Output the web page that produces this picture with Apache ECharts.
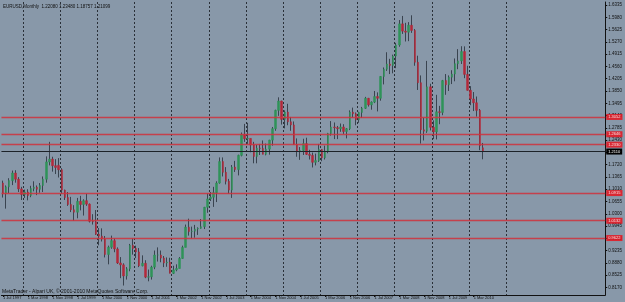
<!DOCTYPE html>
<html>
<head>
<meta charset="utf-8">
<script src="https://cdn.jsdelivr.net/npm/echarts@6.0.0/dist/echarts.min.js"></script>
<style>
  html, body { margin: 0; padding: 0; background: #8898a9; }
  #chart-container { width: 625px; height: 302px; }
</style>
</head>
<body>
<div id="chart-container"></div>
<script>
// EURUSD monthly, Jul 1997 .. Jun 2010
const open = [
	1.1190, 1.0880, 1.1080, 1.1260, 1.1480, 1.1300,
	1.1020, 1.0860, 1.0930, 1.0830, 1.1030, 1.1070, 1.1010, 1.1120, 1.1300, 1.1800, 1.1880, 1.1690,
	1.1700, 1.1575, 1.0985, 1.0770, 1.0570, 1.0418, 1.0347, 1.0660, 1.0570, 1.0680, 1.0580, 1.0085,
	1.0070, 0.9710, 0.9655, 0.9570, 0.9125, 0.9335, 0.9525, 0.9285, 0.8880, 0.8825, 0.8505, 0.8710,
	0.9390, 0.9300, 0.9200, 0.8800, 0.8870, 0.8470, 0.8480, 0.8760, 0.9110, 0.9110, 0.9020, 0.8880,
	0.8905, 0.8580, 0.8680, 0.8720, 0.9010, 0.9330, 0.9915, 0.9790, 0.9800, 0.9860, 0.9880, 0.9930,
	1.0490, 1.0730, 1.0780, 1.0910, 1.1190, 1.1810, 1.1500, 1.1240, 1.0985, 1.1650, 1.1580, 1.1990,
	1.2590, 1.2470, 1.2480, 1.2290, 1.1960, 1.2200, 1.2190, 1.2020, 1.2170, 1.2430, 1.2760, 1.3290,
	1.3560, 1.3030, 1.3240, 1.2960, 1.2870, 1.2300, 1.2100, 1.2130, 1.2330, 1.2020, 1.1990, 1.1790,
	1.1840, 1.2160, 1.1920, 1.2110, 1.2620, 1.2810, 1.2790, 1.2760, 1.2810, 1.2680, 1.2760, 1.3240,
	1.3190, 1.3020, 1.3230, 1.3350, 1.3640, 1.3450, 1.3530, 1.3690, 1.3640, 1.4270, 1.4480, 1.4630,
	1.4590, 1.4860, 1.5180, 1.5790, 1.5580, 1.5550, 1.5750, 1.5600, 1.4680, 1.4090, 1.2730, 1.2690,
	1.3970, 1.2800, 1.2670, 1.3250, 1.3230, 1.4150, 1.4030, 1.4250, 1.4340, 1.4640, 1.4720, 1.4990,
	1.4330, 1.3870, 1.3620, 1.3510, 1.3290, 1.2208,
];
const close = [
	1.0880, 1.1080, 1.1260, 1.1480, 1.1300, 1.1020,
	1.0860, 1.0930, 1.0830, 1.1030, 1.1070, 1.1010, 1.1120, 1.1300, 1.1800, 1.1880, 1.1690, 1.1640,
	1.1575, 1.0985, 1.0770, 1.0570, 1.0418, 1.0347, 1.0660, 1.0570, 1.0680, 1.0580, 1.0085, 1.0070,
	0.9710, 0.9655, 0.9570, 0.9125, 0.9335, 0.9525, 0.9285, 0.8880, 0.8825, 0.8505, 0.8710, 0.9390,
	0.9300, 0.9200, 0.8800, 0.8870, 0.8470, 0.8480, 0.8760, 0.9110, 0.9110, 0.9020, 0.8880, 0.8905,
	0.8580, 0.8680, 0.8720, 0.9010, 0.9330, 0.9915, 0.9790, 0.9800, 0.9860, 0.9880, 0.9930, 1.0490,
	1.0730, 1.0780, 1.0910, 1.1190, 1.1810, 1.1500, 1.1240, 1.0985, 1.1650, 1.1580, 1.1990, 1.2590,
	1.2470, 1.2480, 1.2290, 1.1960, 1.2200, 1.2190, 1.2020, 1.2170, 1.2430, 1.2760, 1.3290, 1.3560,
	1.3030, 1.3240, 1.2960, 1.2870, 1.2300, 1.2100, 1.2130, 1.2330, 1.2020, 1.1990, 1.1790, 1.1840,
	1.2160, 1.1920, 1.2110, 1.2620, 1.2810, 1.2790, 1.2760, 1.2810, 1.2680, 1.2760, 1.3240, 1.3190,
	1.3020, 1.3230, 1.3350, 1.3640, 1.3450, 1.3530, 1.3690, 1.3640, 1.4270, 1.4480, 1.4630, 1.4590,
	1.4860, 1.5180, 1.5790, 1.5580, 1.5550, 1.5750, 1.5600, 1.4680, 1.4090, 1.2730, 1.2690, 1.3970,
	1.2800, 1.2670, 1.3250, 1.3230, 1.4150, 1.4030, 1.4250, 1.4340, 1.4640, 1.4720, 1.4990, 1.4330,
	1.3870, 1.3620, 1.3510, 1.3290, 1.2270, 1.21099,
];
const low = [
	1.0770, 1.0450, 1.0900, 1.1130, 1.1200, 1.0930,
	1.0700, 1.0760, 1.0690, 1.0780, 1.0950, 1.0840, 1.0910, 1.0930, 1.1200, 1.1700, 1.1520, 1.1450,
	1.1350, 1.0880, 1.0700, 1.0530, 1.0350, 1.0100, 1.0170, 1.0400, 1.0250, 1.0530, 1.0050, 0.9990,
	0.9690, 0.9390, 0.9500, 0.9040, 0.8840, 0.9290, 0.9190, 0.8850, 0.8440, 0.8228, 0.8400, 0.8640,
	0.9120, 0.9020, 0.8760, 0.8780, 0.8440, 0.8350, 0.8400, 0.8700, 0.8920, 0.8900, 0.8760, 0.8770,
	0.8580, 0.8560, 0.8640, 0.8720, 0.9000, 0.9330, 0.9670, 0.9590, 0.9610, 0.9690, 0.9870, 0.9860,
	1.0330, 1.0670, 1.0500, 1.0640, 1.1170, 1.1380, 1.1150, 1.0880, 1.0760, 1.1510, 1.1410, 1.1960,
	1.2380, 1.2320, 1.2080, 1.1760, 1.1760, 1.2000, 1.2020, 1.1990, 1.2010, 1.2270, 1.2700, 1.3130,
	1.2880, 1.2770, 1.2860, 1.2700, 1.2290, 1.1950, 1.1860, 1.2000, 1.2000, 1.1870, 1.1640, 1.1700,
	1.1800, 1.1820, 1.1870, 1.2050, 1.2560, 1.2460, 1.2460, 1.2670, 1.2610, 1.2480, 1.2720, 1.3080,
	1.2860, 1.2930, 1.3070, 1.3330, 1.3400, 1.3310, 1.3500, 1.3260, 1.3570, 1.4040, 1.4430, 1.4340,
	1.4360, 1.4510, 1.5130, 1.5500, 1.5280, 1.5290, 1.5530, 1.4580, 1.3880, 1.2330, 1.2420, 1.2640,
	1.2710, 1.2460, 1.2450, 1.2890, 1.3150, 1.3740, 1.3850, 1.4050, 1.4130, 1.4480, 1.4630, 1.4220,
	1.3860, 1.3440, 1.3270, 1.3110, 1.2140, 1.18757,
];
const high = [
	1.1260, 1.1120, 1.1330, 1.1550, 1.1560, 1.1360,
	1.1080, 1.1000, 1.1010, 1.1110, 1.1240, 1.1120, 1.1190, 1.1380, 1.1960, 1.2380, 1.1950, 1.1880,
	1.1910, 1.1620, 1.1000, 1.0930, 1.0790, 1.0550, 1.0760, 1.0820, 1.0720, 1.0880, 1.0600, 1.0290,
	1.0410, 0.9890, 0.9880, 0.9660, 0.9380, 0.9670, 0.9590, 0.9330, 0.9050, 0.8870, 0.8760, 0.9430,
	0.9590, 0.9380, 0.9310, 0.9100, 0.8960, 0.8690, 0.8800, 0.9240, 0.9330, 0.9240, 0.9080, 0.9040,
	0.9030, 0.8800, 0.8840, 0.9050, 0.9380, 0.9990, 1.0160, 0.9930, 0.9980, 0.9910, 1.0150, 1.0500,
	1.0890, 1.0930, 1.1080, 1.1240, 1.1930, 1.1930, 1.1650, 1.1310, 1.1710, 1.1830, 1.2010, 1.2650,
	1.2900, 1.2930, 1.2480, 1.2380, 1.2290, 1.2320, 1.2420, 1.2330, 1.2440, 1.2810, 1.3310, 1.3667,
	1.3570, 1.3290, 1.3480, 1.3100, 1.2970, 1.2480, 1.2230, 1.2470, 1.2500, 1.2150, 1.2070, 1.2040,
	1.2320, 1.2170, 1.2270, 1.2640, 1.2980, 1.2940, 1.2840, 1.2910, 1.2890, 1.2780, 1.3290, 1.3370,
	1.3230, 1.3250, 1.3390, 1.3680, 1.3650, 1.3550, 1.3850, 1.3810, 1.4280, 1.4530, 1.4970, 1.4780,
	1.4900, 1.5240, 1.5900, 1.6019, 1.5820, 1.5840, 1.6038, 1.5640, 1.4870, 1.4300, 1.3080, 1.4720,
	1.4060, 1.3000, 1.3740, 1.3420, 1.4170, 1.4340, 1.4300, 1.4450, 1.4790, 1.5060, 1.5144, 1.5140,
	1.4580, 1.3990, 1.3820, 1.3690, 1.3330, 1.2348,
];
// price axis labels on the right
const priceTicks = [
	1.6335, 1.5980, 1.5625, 1.5270, 1.4915, 1.4560, 1.4205, 1.3850, 1.3495, 1.3140, 1.2785, 1.2430,
	1.2075, 1.1720, 1.1365, 1.1010, 1.0655, 1.0300, 0.9945, 0.9590, 0.9235, 0.8880, 0.8525, 0.8170,
];
// horizontal levels drawn in red, and the current bid
const levels = [1.3052, 1.2646, 1.2330, 1.0915, 1.0132, 0.9622];
const bid = 1.21099;

const monthNames = ['Jan', 'Feb', 'Mar', 'Apr', 'May', 'Jun', 'Jul', 'Aug', 'Sep', 'Oct', 'Nov', 'Dec'];
const slots = 195; // bars + empty chart shift on the right
let categories = [];
for (let i = 0; i < slots; i++) {
	let m = 6 + i;
	categories.push('1 ' + monthNames[m % 12] + ' ' + (1997 + Math.floor(m / 12)));
}

let wicks = open.map((o, i) => [o, close[i], low[i], high[i]]);
let bodies = open.map((o, i) => [o, close[i], Math.min(o, close[i]), Math.max(o, close[i])]);

const font = 'Liberation Sans';

let dom = document.getElementById('chart-container');
let myChart = echarts.init(dom, null, { renderer: 'canvas', useDirtyRect: false });

let option = {
	backgroundColor: '#8898a9',
	animation: false,
	grid: { left: 0, right: 15, top: 2, bottom: 7 },
	xAxis: {
		type: 'category',
		data: categories,
		boundaryGap: true,
		axisLine: { show: true, lineStyle: { color: '#111', width: 1 } },
		axisTick: {
			show: true,
			alignWithLabel: true,
			length: 2,
			interval: (i) => i % 8 === 0 && i <= 152,
			lineStyle: { color: '#111' },
		},
		axisLabel: {
			interval: (i) => i % 8 === 0 && i <= 152,
			align: 'left',
			margin: 1,
			fontSize: 4,
			fontFamily: font,
			color: '#111',
		},
		splitLine: {
			show: true,
			interval: (i) => i % 12 === 7 && i <= 163,
			lineStyle: { color: '#2a3038', width: 1, type: [2, 2] },
		},
	},
	yAxis: {
		type: 'value',
		position: 'right',
		min: 0.7954,
		max: 1.6422,
		scale: true,
		axisLine: { show: true, lineStyle: { color: '#111', width: 1 } },
		axisTick: { show: true, length: 2, customValues: priceTicks, lineStyle: { color: '#111' } },
		axisLabel: {
			customValues: priceTicks,
			formatter: (v) => v.toFixed(4),
			margin: 3,
			fontSize: 4.5,
			fontFamily: font,
			color: '#111',
		},
		splitLine: { show: false },
	},
	graphic: [
		{
			type: 'text',
			left: 3,
			top: 4,
			style: {
				text: 'EURUSD,Monthly  1.22080 1.23480 1.18757 1.21099',
				fontSize: 4.5,
				fontFamily: font,
				fill: '#111',
			},
		},
		{
			type: 'text',
			left: 2,
			top: 289,
			style: {
				text: 'MetaTrader - Alpari UK, \u00a9 2001-2010 MetaQuotes Software Corp.',
				fontSize: 5,
				fontFamily: font,
				fill: '#111',
			},
		},
	],
	series: [
		{
			name: 'wick',
			type: 'candlestick',
			barWidth: 1,
			silent: true,
			itemStyle: {
				color: '#3a4450',
				color0: '#3a4450',
				borderColor: '#3a4450',
				borderColor0: '#3a4450',
				borderWidth: 1,
			},
			data: wicks,
		},
		{
			name: 'EURUSD',
			type: 'candlestick',
			barWidth: 2,
			silent: true,
			itemStyle: {
				color: '#2f9358',
				color0: '#b3283a',
				borderColor: '#2f9358',
				borderColor0: '#b3283a',
				borderWidth: 0.5,
			},
			data: bodies,
		},
	],
};

myChart.setOption(option);

let levelLines = levels.map((v) => ({
	name: v.toFixed(4),
	yAxis: v,
	lineStyle: { color: '#d0303c', width: 1.4, opacity: 0.85, type: 'solid' },
	label: { backgroundColor: '#e8141e', color: '#fff' },
}));
levelLines.push({
	name: bid.toFixed(4),
	yAxis: bid,
	lineStyle: { color: '#1c2228', width: 1, type: 'solid' },
	label: { backgroundColor: '#000', color: '#fff' },
});

myChart.setOption({
	series: [
		{},
		{
			markLine: {
				silent: true,
				symbol: 'none',
				animation: false,
				label: {
					show: true,
					position: 'end',
					distance: 1,
					formatter: '{b}',
					fontSize: 4,
					fontFamily: font,
					padding: [1, 2],
				},
				data: levelLines,
			},
		},
	],
});
window.addEventListener('resize', myChart.resize);
</script>
</body>
</html>
